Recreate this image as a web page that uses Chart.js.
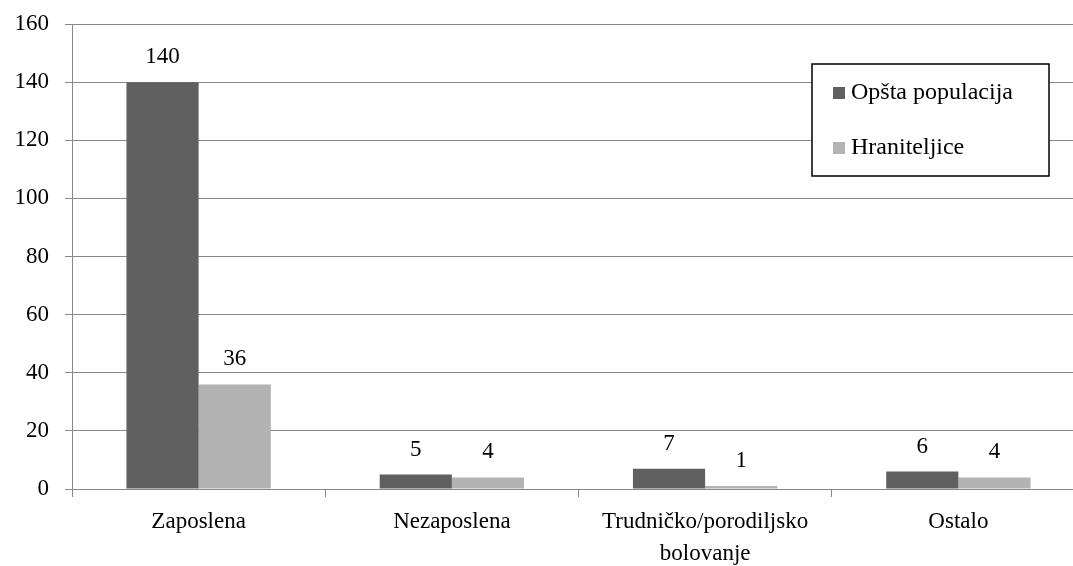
<!DOCTYPE html>
<html>
<head>
<meta charset="utf-8">
<script src="https://cdn.jsdelivr.net/npm/chart.js@4/dist/chart.umd.min.js"></script>
<style>
  html, body { margin: 0; padding: 0; background: #fff; overflow: hidden; }
  #wrap { width: 1090px; height: 566px; position: relative; }
</style>
</head>
<body>
<div id="wrap"><canvas id="myChart"></canvas></div>
<script>
const categories = ["Zaposlena", "Nezaposlena", ["Trudničko/porodiljsko", "bolovanje"], "Ostalo"];
const seriesNames = ["Opšta populacija", "Hraniteljice"];
const opstaPopulacija = [140, 5, 7, 6];
const hraniteljice = [36, 4, 1, 4];
const seriesColors = ["#606060", "#b3b3b3"];
const yMax = 160;
const yStep = 20;

const font = "'Liberation Serif', 'Times New Roman', serif";
const gridColor = "#888888";

// value labels above every bar
const barLabels = {
  id: "barLabels",
  afterDatasetsDraw(chart) {
    const ctx = chart.ctx;
    ctx.save();
    ctx.font = "23px " + font;
    ctx.fillStyle = "#000";
    ctx.textAlign = "center";
    ctx.textBaseline = "middle";
    chart.data.datasets.forEach(function (ds, i) {
      chart.getDatasetMeta(i).data.forEach(function (bar, j) {
        ctx.fillText(String(ds.data[j]), bar.x, bar.y - 25);
      });
    });
    ctx.restore();
  },
};

// boxed legend in the upper right
const boxLegend = {
  id: "boxLegend",
  afterDraw(chart) {
    const ctx = chart.ctx;
    ctx.save();
    ctx.fillStyle = "#fff";
    ctx.fillRect(812, 64, 237, 112);
    ctx.strokeStyle = "#000";
    ctx.lineWidth = 1.5;
    ctx.strokeRect(812, 64, 237, 112);
    ctx.font = "24px " + font;
    ctx.textBaseline = "middle";
    ctx.textAlign = "left";
    chart.data.datasets.forEach(function (ds, i) {
      const y = 93 + i * 55;
      ctx.fillStyle = ds.backgroundColor;
      ctx.fillRect(833, y - 6, 12, 12);
      ctx.fillStyle = "#000";
      ctx.fillText(ds.label, 851, y);
    });
    ctx.restore();
  },
};

new Chart("myChart", {
  type: "bar",
  data: {
    labels: categories,
    datasets: [
      { label: seriesNames[0], data: opstaPopulacija, backgroundColor: seriesColors[0] },
      { label: seriesNames[1], data: hraniteljice, backgroundColor: seriesColors[1] },
    ],
  },
  options: {
    responsive: true,
    maintainAspectRatio: false,
    animation: false,
    datasets: { bar: { categoryPercentage: 0.57, barPercentage: 1.0 } },
    layout: { padding: { top: 24, right: 5, bottom: 0, left: 0 } },
    plugins: { legend: { display: false }, tooltip: { enabled: false } },
    scales: {
      x: {
        grid: { display: true, drawOnChartArea: false, drawTicks: true, tickLength: 8, color: gridColor, offset: true },
        border: { display: true, color: gridColor, width: 1 },
        ticks: { font: { family: font, size: 23, lineHeight: 1.38 }, color: "#000", padding: 9, maxRotation: 0, autoSkip: false },
        afterFit(scale) { scale.height = 77; },
      },
      y: {
        min: 0,
        max: yMax,
        grid: { color: gridColor, tickLength: 7, drawTicks: true },
        border: { display: true, color: gridColor, width: 1 },
        // small lineHeight keeps the scale's top padding from pushing the plot down
        ticks: { stepSize: yStep, font: { family: font, size: 23, lineHeight: 0.7 }, color: "#000", padding: 16 },
        afterFit(scale) { scale.width = 72; },
      },
    },
  },
  plugins: [barLabels, boxLegend],
});
</script>
</body>
</html>
